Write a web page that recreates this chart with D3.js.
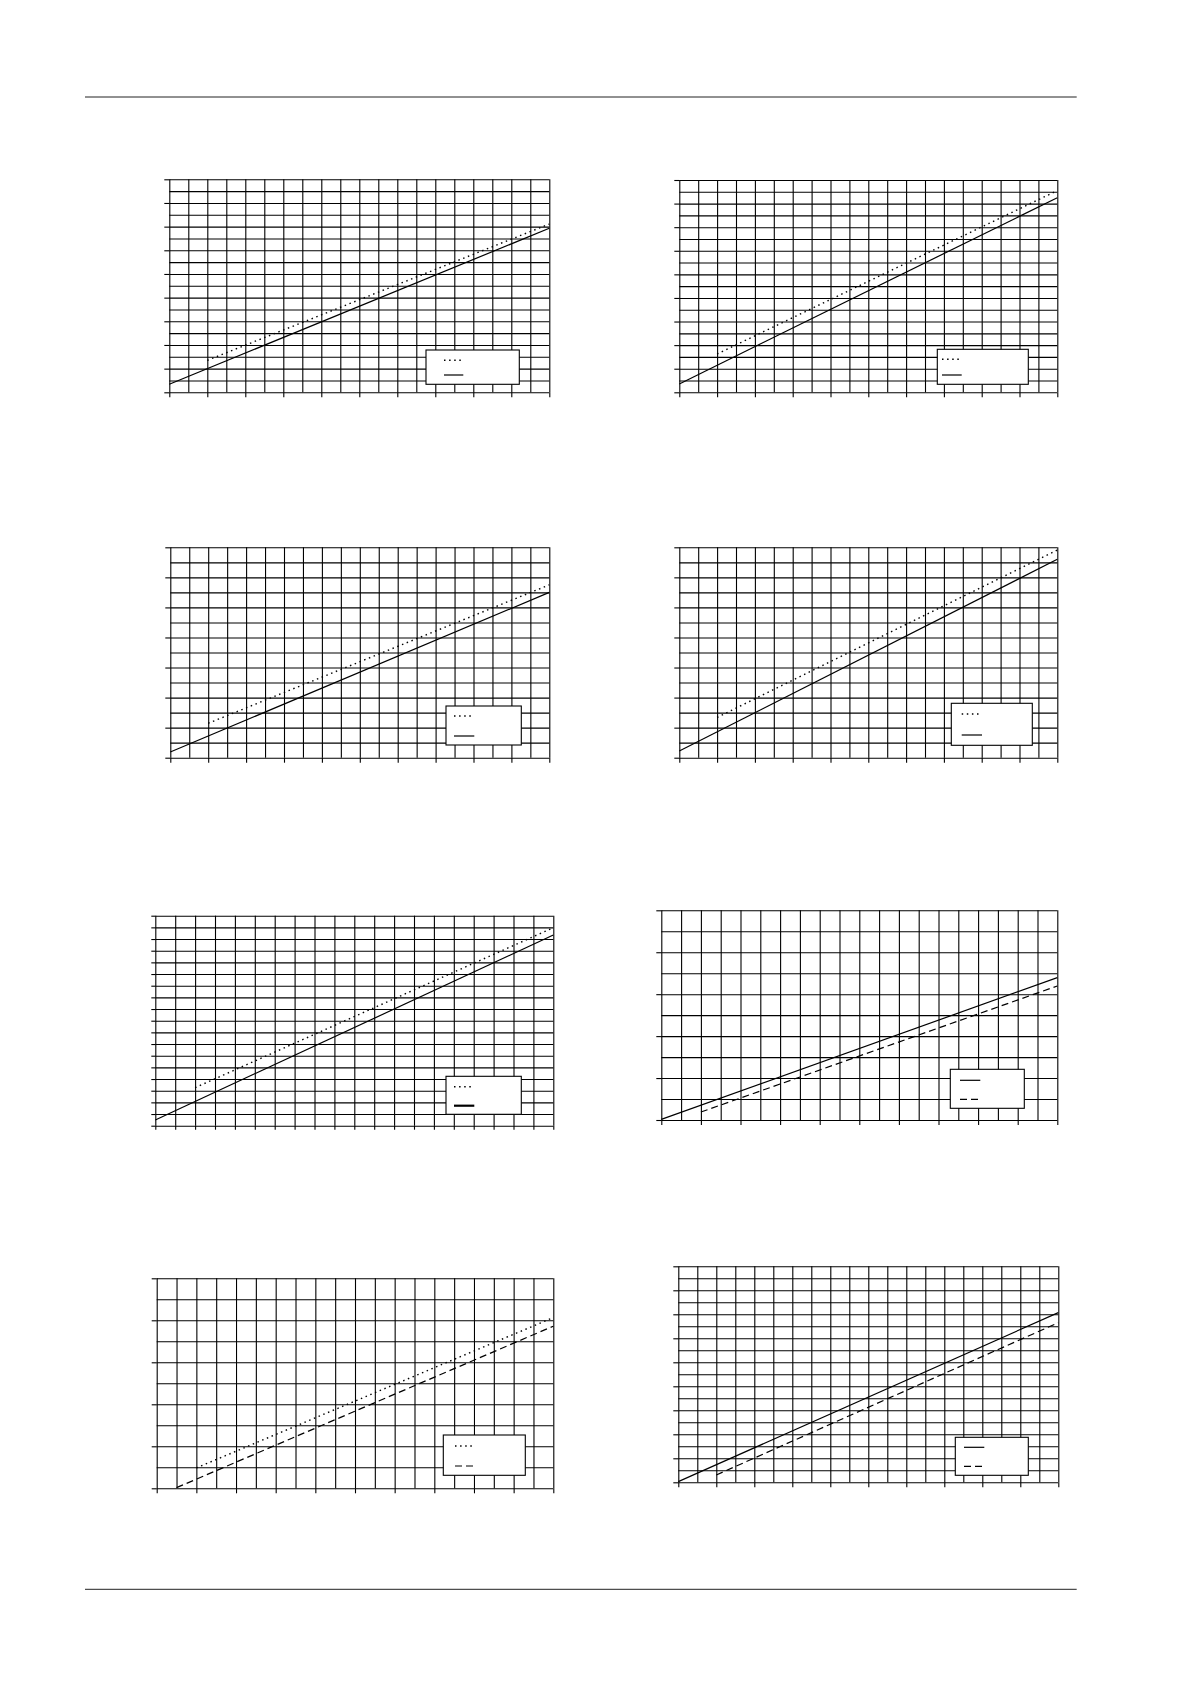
<!DOCTYPE html>
<html>
<head>
	<style>
	body {
		margin: 0;
		background: #fff;
	}
	svg { display: block; }
	</style>
</head>
<body>
	<script src="https://d3js.org/d3.v7.min.js"></script>
	<script>
	// grid is 20 steps wide on every panel; rows differ
	var xDomain = [0, 20];
	var panelRows = [18, 18, 14, 14, 18, 10, 10, 18];

	// series values in grid steps
	var p1Dotted = [[2, 2.70], [20, 14.22]];
	var p1Solid  = [[0, 0.68], [20, 13.86]];
	var p2Dotted = [[2, 3.25], [20, 17.10]];
	var p2Solid  = [[0, 0.71], [20, 16.50]];
	var p3Dotted = [[2, 2.29], [20, 11.50]];
	var p3Solid  = [[0, 0.38], [20, 11.00]];
	var p4Dotted = [[2, 2.68], [20, 13.82]];
	var p4Solid  = [[0, 0.44], [20, 13.20]];
	var p5Dotted = [[2, 3.26], [20, 16.97]];
	var p5Solid  = [[0, 0.49], [20, 16.34]];
	var p6Solid  = [[0, 0.03], [20, 6.79]];
	var p6Dashed = [[2, 0.38], [20, 6.39]];
	var p7Dotted = [[2, 0.97], [20, 8.13]];
	var p7Dashed = [[1, 0.03], [20, 7.72]];
	var p8Solid  = [[0, 0.06], [20, 14.14]];
	var p8Dashed = [[2, 0.61], [20, 13.30]];

	var styles = {
		solid:  { dash: null,      w: 1.2 },
		thick:  { dash: null,      w: 2.2 },
		dotted: { dash: "1.5,3.6", w: 1.4 },
		dashed: { dash: "7,4",     w: 1.2 }
	};

	// page layout
	var panels = [
		{ box: [169.3, 549.3, 179.3, 392.3], every: 2, tick: 5,
			legend: [426, 350, 93.3, 34.3], sample: [444, 463.3],
			series: [{ data: p1Dotted, s: "dotted", ly: 360.3 }, { data: p1Solid, s: "solid", ly: 375 }] },
		{ box: [679.3, 1057.3, 180, 392.3], every: 2, tick: 5,
			legend: [937.3, 349.3, 91, 35], sample: [942, 961.7],
			series: [{ data: p2Dotted, s: "dotted", ly: 359.3 }, { data: p2Solid, s: "solid", ly: 375 }] },
		{ box: [170.3, 549.3, 547.3, 757.7], every: 2, tick: 5,
			legend: [446, 706, 75.3, 39], sample: [454, 474.3],
			series: [{ data: p3Dotted, s: "dotted", ly: 716 }, { data: p3Solid, s: "solid", ly: 736 }] },
		{ box: [679.3, 1057.3, 547.3, 757.7], every: 2, tick: 5,
			legend: [951.3, 703.3, 81, 42], sample: [961.7, 982],
			series: [{ data: p4Dotted, s: "dotted", ly: 714 }, { data: p4Solid, s: "solid", ly: 735 }] },
		{ box: [155.3, 553.3, 915.7, 1125.7], every: 1, tick: 4,
			legend: [446, 1076.3, 75.3, 38], sample: [454, 474.3],
			series: [{ data: p5Dotted, s: "dotted", ly: 1086.7 }, { data: p5Solid, s: "solid", ly: 1105.7, ls: "thick" }] },
		{ box: [661.3, 1057.3, 910.3, 1120], every: 2, tick: 5,
			legend: [950.3, 1069.3, 74, 39], sample: [960, 980.3],
			series: [{ data: p6Solid, s: "solid", ly: 1080.3 }, { data: p6Dashed, s: "dashed", ly: 1099.3 }] },
		{ box: [156.7, 553.3, 1278.3, 1488.3], every: 2, tick: 5,
			legend: [443.3, 1435, 82, 40.3], sample: [455, 473.7],
			series: [{ data: p7Dotted, s: "dotted", ly: 1446 }, { data: p7Dashed, s: "dashed", ly: 1466 }] },
		{ box: [678.3, 1058.3, 1266.3, 1482.3], every: 2, tick: 5,
			legend: [955.3, 1437.3, 73, 38], sample: [964, 984.3],
			series: [{ data: p8Solid, s: "solid", ly: 1447.3 }, { data: p8Dashed, s: "dashed", ly: 1466.3 }] }
	];

	var svg = d3.select("body").append("svg")
			.attr("width", 1190)
			.attr("height", 1684);

	svg.append("rect").attr("width", 1190).attr("height", 1684).attr("fill", "#fff");

	// header and footer rules
	svg.selectAll("line.rule")
			.data([97, 1589.3])
		.enter().append("line")
			.attr("class", "rule")
			.attr("x1", 85).attr("x2", 1076.7)
			.attr("y1", function(d){ return d; })
			.attr("y2", function(d){ return d; })
			.attr("stroke", "#222")
			.attr("stroke-width", 1);

	panels.forEach(function(p, i){
		var rows = panelRows[i];
		var left = p.box[0], right = p.box[1], top = p.box[2], bottom = p.box[3];

		var x = d3.scaleLinear().domain(xDomain).range([left, right]);
		var y = d3.scaleLinear().domain([0, rows]).range([bottom, top]);

		var g = svg.append("g");

		var xAll = d3.range(xDomain[0], xDomain[1] + 1);
		var yAll = d3.range(0, rows + 1);

		// grid
		g.append("g")
				.attr("transform", "translate(0," + bottom + ")")
				.call(d3.axisBottom(x).tickValues(xAll).tickSize(-(bottom - top)).tickFormat(""))
				.call(function(a){ a.select(".domain").remove(); });

		g.append("g")
				.attr("transform", "translate(" + left + ",0)")
				.call(d3.axisLeft(y).tickValues(yAll).tickSize(-(right - left)).tickFormat(""))
				.call(function(a){ a.select(".domain").remove(); });

		// outside ticks
		g.append("g")
				.attr("transform", "translate(0," + bottom + ")")
				.call(d3.axisBottom(x).tickValues(xAll.filter(function(v){ return v % p.every == 0; }))
					.tickSizeInner(p.tick).tickSizeOuter(0).tickFormat(""))
				.call(function(a){ a.select(".domain").remove(); });

		g.append("g")
				.attr("transform", "translate(" + left + ",0)")
				.call(d3.axisLeft(y).tickValues(yAll.filter(function(v){ return v % p.every == 0; }))
					.tickSizeInner(p.tick).tickSizeOuter(0).tickFormat(""))
				.call(function(a){ a.select(".domain").remove(); });

		g.selectAll(".tick line")
				.attr("stroke", "#000")
				.attr("stroke-width", 1.1);

		var line = d3.line()
				.x(function(d){ return x(d[0]); })
				.y(function(d){ return y(d[1]); });

		p.series.forEach(function(s){
			var st = styles[s.s];
			g.append("path")
					.datum(s.data)
					.attr("d", line)
					.attr("fill", "none")
					.attr("stroke", "#000")
					.attr("stroke-width", st.w)
					.attr("stroke-dasharray", st.dash);
		});

		// legend
		var lg = g.append("g");
		lg.append("rect")
				.attr("x", p.legend[0]).attr("y", p.legend[1])
				.attr("width", p.legend[2]).attr("height", p.legend[3])
				.attr("fill", "#fff")
				.attr("stroke", "#000")
				.attr("stroke-width", 1.1);

		p.series.forEach(function(s){
			var st = styles[s.ls || s.s];
			lg.append("line")
					.attr("x1", p.sample[0]).attr("x2", p.sample[1])
					.attr("y1", s.ly).attr("y2", s.ly)
					.attr("stroke", "#000")
					.attr("stroke-width", st.w)
					.attr("stroke-dasharray", st.dash);
		});
	});
	</script>

</body>
</html>
